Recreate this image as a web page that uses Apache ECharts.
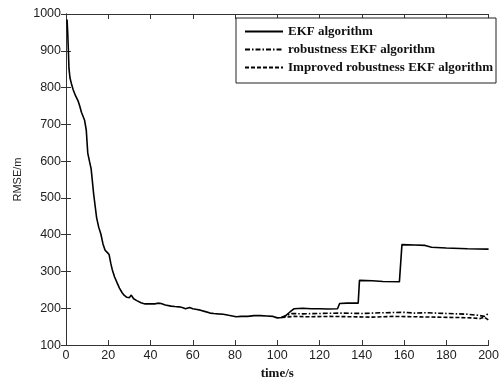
<!DOCTYPE html>
<html>
<head>
<meta charset="utf-8">
<script src="https://cdn.jsdelivr.net/npm/echarts@6/dist/echarts.min.js"></script>
<style>
  html, body { margin: 0; padding: 0; background: #fff; }
  #chart { width: 502px; height: 385px; }
</style>
</head>
<body>
<div id="chart"></div>
<script>
// shared part: the three curves overlap until ~t=102
const sharedTime = [0.5, 0.8, 1.1, 1.4, 1.9, 2.5, 3.4, 4.5, 5.7, 6.5, 7.3, 8.0, 8.8, 9.6, 10.3, 11.1, 11.9, 13.1, 14.5, 15.5,
  16.5, 17.5, 18.5, 19.5, 20.4, 21.2, 21.9, 23, 24.2, 25.3, 26.5, 27.6, 28.8, 30, 30.9, 32, 33.5, 35.5, 37.4, 40,
  42, 43.5, 45, 47, 49.7, 51.5, 53.5, 55, 56.6, 58.5, 60, 62, 63.6, 66, 68.2, 70, 72, 74.4, 77, 80.5,
  83, 86, 89, 92, 95, 98, 100, 102];
const sharedRmse = [985, 950, 905, 852, 826, 812, 794, 778, 764, 750, 733, 728, 711, 684, 622, 600, 579, 510, 446, 420,
  402, 375, 358, 352, 346, 322, 305, 285, 269, 255, 243, 235, 230, 229, 236, 226, 221, 215, 212, 212,
  212, 214, 213, 209, 206, 205, 204, 202, 199, 202, 199, 197, 195, 191, 187, 186, 185, 184, 181, 177,
  178, 178, 180, 180, 179, 178, 174, 175];

// after t=102 the curves separate
const ekfTime = [104, 106, 108, 112, 116, 120, 124, 128.5, 129.5, 133, 138.3, 138.9, 145, 150, 157.8, 159, 165, 170, 173, 180, 190, 200];
const ekfRmse = [180, 190, 199, 200, 199, 199, 198, 199, 213, 214, 214, 276, 275, 273, 272, 373, 372, 371, 366, 364, 362, 361];

const robustTime = [104, 107, 112, 120, 130, 140, 150, 160, 165, 170, 180, 190, 195, 198, 200];
const robustRmse = [180, 186, 185, 186, 187, 186, 188, 189, 187, 188, 186, 184, 181, 178, 186];

const improvedTime = [104, 108, 115, 125, 135, 145, 155, 165, 175, 185, 192, 196, 198, 200];
const improvedRmse = [176, 178, 177, 178, 177, 176, 178, 177, 176, 175, 174, 172, 176, 168];

const xTicks = { min: 0, max: 200, interval: 20 };
const yTicks = { min: 100, max: 1000, interval: 100 };

function pairs(ts, vs) { return ts.map((t, i) => [t, vs[i]]); }
const shared = pairs(sharedTime, sharedRmse);

const chart = echarts.init(document.getElementById('chart'), null, { renderer: 'canvas' });

const axisLine = { show: true, lineStyle: { color: '#333', width: 1 } };
const tick = { show: true, inside: true, length: 5, lineStyle: { color: '#333' } };
const labelFont = { color: '#222', fontFamily: 'Liberation Sans, Arial, sans-serif', fontSize: 12.5 };

chart.setOption({
  animation: false,
  backgroundColor: '#fff',
  grid: { left: 66, right: 4, top: 14, bottom: 31, containLabel: false },
  legend: {
    orient: 'vertical',
    left: 236,
    top: 18,
    backgroundColor: '#fff',
    borderColor: '#222',
    borderWidth: 1,
    borderRadius: 0,
    padding: [7, 3, 9, 8],
    itemWidth: 38,
    itemHeight: 14,
    itemGap: 5,
    itemStyle: { opacity: 0 },
    lineStyle: { width: 2 },
    textStyle: { fontFamily: 'Liberation Serif, Times New Roman, serif', fontWeight: 'bold', fontSize: 13, color: '#111' },
    data: ['EKF algorithm', 'robustness EKF algorithm', 'Improved robustness EKF algorithm']
  },
  xAxis: [
    {
      type: 'value', ...xTicks,
      name: 'time/s', nameLocation: 'middle', nameGap: 20,
      nameTextStyle: { fontFamily: 'Liberation Serif, Times New Roman, serif', fontWeight: 'bold', fontSize: 13, color: '#111' },
      axisLine, axisTick: tick, splitLine: { show: false },
      axisLabel: { ...labelFont, margin: 4, formatter: v => String(v) }
    },
    {
      type: 'value', ...xTicks, position: 'top',
      axisLine, axisTick: tick, splitLine: { show: false }, axisLabel: { show: false }
    }
  ],
  yAxis: [
    {
      type: 'value', ...yTicks,
      name: 'RMSE/m', nameLocation: 'middle', nameGap: 43, nameMoveOverlap: false,
      nameTextStyle: { fontFamily: 'Liberation Sans, Arial, sans-serif', fontSize: 11, color: '#222' },
      axisLine, axisTick: tick, splitLine: { show: false },
      axisLabel: { ...labelFont, margin: 5, formatter: v => String(v) }
    },
    {
      type: 'value', ...yTicks, position: 'right',
      axisLine, axisTick: tick, splitLine: { show: false }, axisLabel: { show: false }
    }
  ],
  series: [
    {
      name: 'EKF algorithm', type: 'line', symbol: 'none',
      data: shared.concat(pairs(ekfTime, ekfRmse)),
      lineStyle: { color: '#000', width: 1.6, type: 'solid' },
      itemStyle: { color: '#000' }, z: 3
    },
    {
      name: 'robustness EKF algorithm', type: 'line', symbol: 'none',
      data: [shared[shared.length - 1]].concat(pairs(robustTime, robustRmse)),
      lineStyle: { color: '#000', width: 1.6, type: [5, 2, 1.5, 2] },
      itemStyle: { color: '#000' }, z: 2
    },
    {
      name: 'Improved robustness EKF algorithm', type: 'line', symbol: 'none',
      data: [shared[shared.length - 1]].concat(pairs(improvedTime, improvedRmse)),
      lineStyle: { color: '#000', width: 1.6, type: [4, 2] },
      itemStyle: { color: '#000' }, z: 2
    }
  ]
});
</script>
</body>
</html>
